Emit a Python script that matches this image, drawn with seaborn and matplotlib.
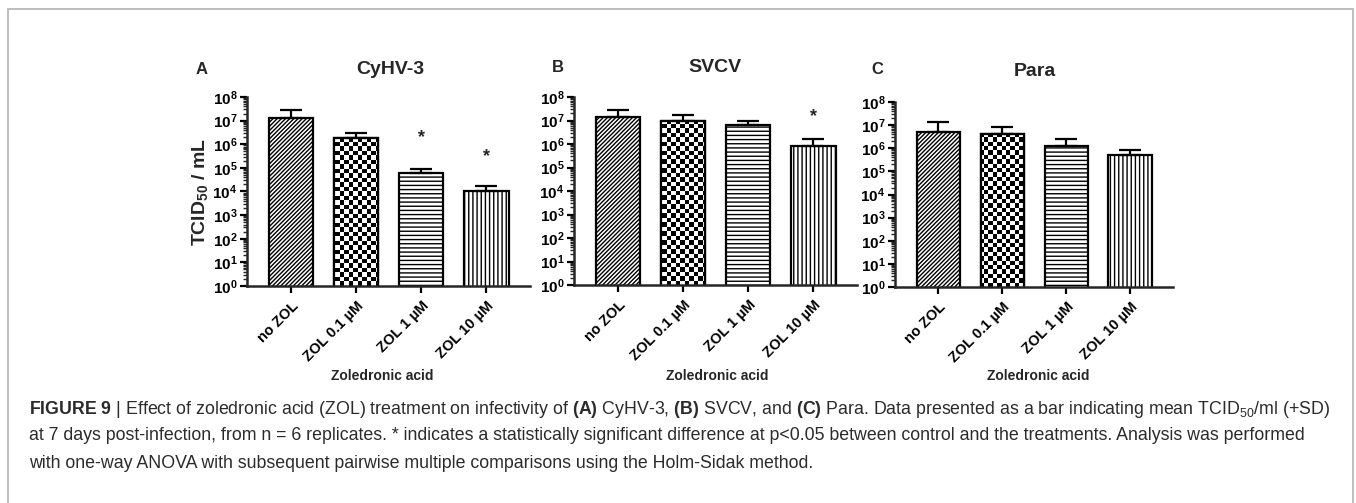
# Zoledronic acid vs. TCID50 for three viruses (log bar charts)

import numpy as np
import pandas as pd
import matplotlib
matplotlib.use("Agg")
import matplotlib.pyplot as plt
from matplotlib.patches import Rectangle
from matplotlib.ticker import LogLocator, NullFormatter
import seaborn as sns


# Data
treatments = ["no ZOL", "ZOL 0.1 µM", "ZOL 1 µM", "ZOL 10 µM"]

cyhv3_mean = [1.3e7, 1.8e6, 6.2e4, 1.1e4]
cyhv3_sd = [1.5e7, 1.2e6, 3.1e4, 0.6e4]
cyhv3_star = [None, None, 1.9e6, 3.0e5]

svcv_mean = [1.45e7, 9.3e6, 6.3e6, 8.2e5]
svcv_sd = [1.35e7, 7.2e6, 3.2e6, 7.8e5]
svcv_star = [None, None, None, 1.4e7]

para_mean = [5.3e6, 4.1e6, 1.26e6, 5.0e5]
para_sd = [8.7e6, 4.0e6, 1.34e6, 3.3e5]
para_star = [None, None, None, None]

panels = [
    ("A", "CyHV-3", cyhv3_mean, cyhv3_sd, cyhv3_star),
    ("B", "SVCV", svcv_mean, svcv_sd, svcv_star),
    ("C", "Para", para_mean, para_sd, para_star),
]

hatches = ["////////", None, "----", "||||"]

# Style
sns.set_style("ticks")
plt.rcParams["font.family"] = ["Liberation Sans", "DejaVu Sans"]
plt.rcParams["mathtext.fontset"] = "custom"
plt.rcParams["mathtext.rm"] = "Liberation Sans"
plt.rcParams["mathtext.it"] = "Liberation Sans:italic"
plt.rcParams["mathtext.bf"] = "Liberation Sans:bold"
plt.rcParams["hatch.linewidth"] = 1.0

W, H = 1356, 503
fig = plt.figure(figsize=(W / 100, H / 100), dpi=100)

# axes boxes in pixels: left, right, top, bottom
boxes = [(247, 530, 97, 286), (574, 857, 97, 285), (895, 1173, 102, 287)]
letter_pos = [(202, 70), (558, 68), (877, 70)]
title_pos = [(390, 69), (715, 67), (1035, 71)]
xlab_pos = [382, 717, 1038]

for i, (letter, title, mean, sd, star) in enumerate(panels):
    l, r, t, b = boxes[i]
    ax = fig.add_axes([l / W, (H - b) / H, (r - l) / W, (b - t) / H])

    df = pd.DataFrame({"treatment": treatments, "tcid50": mean})
    sns.barplot(data=df, x="treatment", y="tcid50", color="white",
                edgecolor="black", linewidth=1.6, width=0.68,
                errorbar=None, ax=ax)
    ax.set_yscale("log")

    bars = ax.patches[:len(treatments)]
    for p, h in zip(bars, hatches):
        p.set_facecolor("white")
        if h:
            p.set_hatch(h)

    # checkerboard for the second bar
    nx, ny = int((r - l) / 4.4), int((b - t) / 4.4)
    checker = (np.indices((ny, nx)).sum(axis=0) % 2).astype(float)
    im = ax.imshow(checker, cmap="gray", interpolation="nearest",
                   extent=[0, 1, 0, 1], transform=ax.transAxes,
                   aspect="auto", zorder=bars[1].get_zorder() + 0.1)
    im.set_clip_path(bars[1])
    outline = Rectangle((bars[1].get_x(), bars[1].get_y()),
                        bars[1].get_width(), bars[1].get_height(),
                        fill=False, ec="black", lw=1.6,
                        zorder=bars[1].get_zorder() + 0.2)
    ax.add_patch(outline)

    # +SD error bars
    xs = np.arange(len(treatments))
    ax.errorbar(xs, mean, yerr=[np.zeros(len(sd)), sd], fmt="none",
                ecolor="black", elinewidth=1.6, capsize=8, capthick=1.6,
                zorder=5)

    for x, s in zip(xs, star):
        if s is not None:
            ax.text(x, s, "*", ha="center", va="center", fontsize=13,
                    fontweight="bold")

    ax.set_xlim(-0.68, 3.67)
    ax.set_ylim(1, 1e8)
    ax.set_yticks([10.0 ** k for k in range(9)])
    ax.set_yticklabels([r"$\mathbf{10^{%d}}$" % k for k in range(9)],
                       fontsize=11)
    ax.yaxis.set_minor_locator(LogLocator(base=10, subs=np.arange(2, 10),
                                          numticks=100))
    ax.yaxis.set_minor_formatter(NullFormatter())
    ax.set_xticks(xs)
    ax.set_xticklabels(treatments, rotation=45, ha="right",
                       rotation_mode="anchor", fontsize=10.5,
                       fontweight="bold")
    ax.tick_params(axis="both", which="major", direction="out", length=5,
                   width=1.6, pad=2, colors="black")
    ax.tick_params(axis="y", which="minor", direction="out", length=3,
                   width=1.0)
    ax.tick_params(axis="x", which="major", pad=4)

    for sp in ["left", "bottom"]:
        ax.spines[sp].set_linewidth(1.8)
    sns.despine(ax=ax)

    ax.set_xlabel("")
    if i == 0:
        ax.set_ylabel(r"TCID$_{\mathbf{50}}$ / mL", fontsize=14,
                      fontweight="bold")
        ax.yaxis.set_label_coords(-0.13, 0.5)
    else:
        ax.set_ylabel("")

    fig.text(letter_pos[i][0] / W, 1 - letter_pos[i][1] / H, letter,
             ha="center", va="center", fontsize=12, fontweight="bold")
    fig.text(title_pos[i][0] / W, 1 - title_pos[i][1] / H, title,
             ha="center", va="center", fontsize=14, fontweight="bold")
    fig.text(xlab_pos[i] / W, 1 - 376 / H, "Zoledronic acid",
             ha="center", va="center", fontsize=10, fontweight="bold")

# Border box
fig.add_artist(Rectangle((8 / W, -0.05), (1353 - 8) / W, 1.05 - 9 / H,
                         transform=fig.transFigure, fill=False,
                         ec="#b3b3b3", lw=1.2))

# Caption
cap_color = "#2b2b2b"
caption = [
    r"$\mathbf{FIGURE\ 9}$ | Effect of zoledronic acid (ZOL) treatment on infectivity of "
    r"$\mathbf{(A)}$ CyHV-3, $\mathbf{(B)}$ SVCV, and $\mathbf{(C)}$ Para. Data presented "
    r"as a bar indicating mean TCID$_{50}$/ml (+SD)",
    "at 7 days post-infection, from n = 6 replicates. * indicates a statistically "
    "significant difference at p<0.05 between control and the treatments. Analysis was performed",
    "with one-way ANOVA with subsequent pairwise multiple comparisons using the Holm-Sidak method.",
]
for k, line in enumerate(caption):
    fig.text(29 / W, 1 - (409 + 27 * k) / H, line, ha="left", va="center",
             fontsize=12.8, color=cap_color)

plt.savefig("out.png", dpi=100)
